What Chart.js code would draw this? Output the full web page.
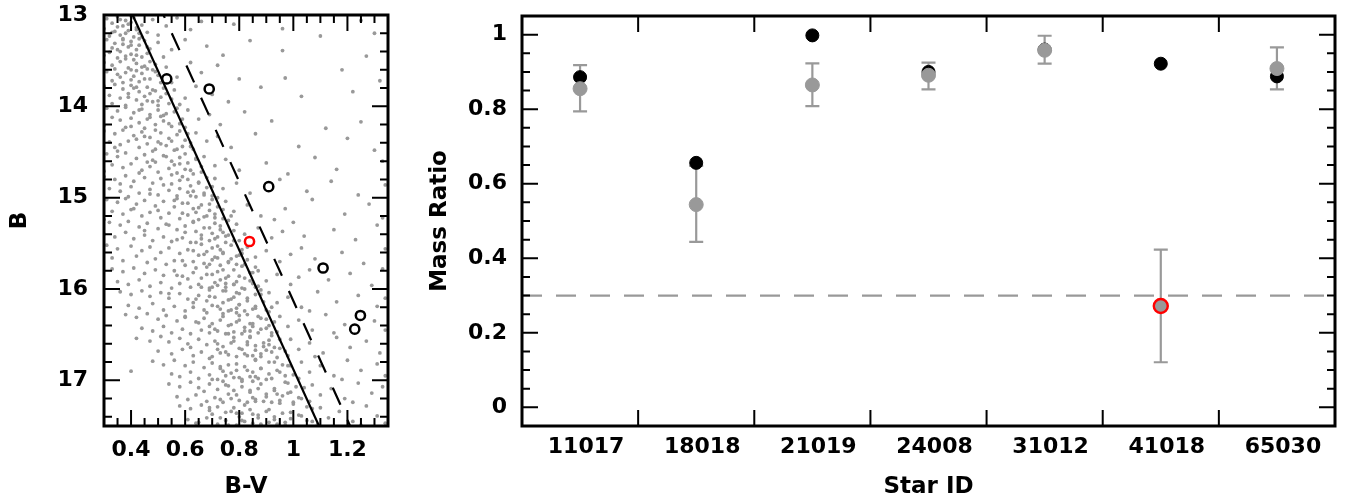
<!DOCTYPE html>
<html>
<head>
<meta charset="utf-8">
<script src="https://cdn.jsdelivr.net/npm/chart.js@4.4.1/dist/chart.umd.min.js"></script>
<style>
  html, body { margin:0; padding:0; background:#fff; }
  #wrap { position:relative; width:1356px; height:500px; overflow:hidden; }
  #cmd { position:absolute; left:0; top:0; }
  #ratio { position:absolute; left:400px; top:0; }
</style>
</head>
<body>
<div id="wrap">
  <canvas id="cmd" width="400" height="500"></canvas>
  <canvas id="ratio" width="956" height="500"></canvas>
</div>
<script>
// ---------------- Left panel: colour-magnitude diagram ----------------
// field stars, [B-V, B]
const fieldStars = [
[0.31,13.04],[0.35,13.02],[0.38,13.06],[0.41,13.03],[0.33,13.09],[0.37,13.12],[0.40,13.08],[0.42,13.14],[0.30,13.15],[0.34,13.18],[0.39,13.17],[0.43,13.20],[0.36,13.22],[0.41,13.24],[0.32,13.23],[0.44,13.11],[0.38,13.20],[0.35,13.13],[0.46,13.19],[0.40,13.01],
[0.48,13.05],[0.53,13.12],[0.57,13.03],[0.50,13.22],[0.62,13.16],[0.66,13.07],[0.78,13.10],[0.96,13.15],[1.30,13.20],[1.25,13.06],[1.10,13.23],
[0.31,13.27],[0.34,13.31],[0.37,13.26],[0.40,13.29],[0.43,13.33],[0.45,13.28],[0.33,13.36],[0.36,13.40],[0.39,13.35],[0.42,13.38],[0.46,13.42],[0.30,13.44],[0.35,13.47],[0.38,13.45],[0.41,13.49],[0.44,13.46],[0.47,13.37],[0.32,13.41],[0.40,13.43],[0.37,13.32],[0.43,13.26],
[0.50,13.30],[0.55,13.38],[0.60,13.27],[0.52,13.46],[0.68,13.34],[0.74,13.44],[0.96,13.39],[1.27,13.45],[0.84,13.28],
[0.30,13.52],[0.33,13.55],[0.36,13.51],[0.39,13.58],[0.42,13.53],[0.45,13.56],[0.48,13.60],[0.31,13.62],[0.35,13.65],[0.38,13.63],[0.41,13.67],[0.44,13.64],[0.47,13.70],[0.50,13.66],[0.33,13.72],[0.37,13.74],[0.40,13.71],[0.43,13.73],[0.46,13.59],[0.49,13.54],[0.34,13.59],[0.42,13.61],
[0.53,13.57],[0.57,13.68],[0.62,13.52],[0.66,13.63],[0.55,13.74],[0.72,13.55],[0.80,13.70],[0.97,13.69],[1.18,13.60],[1.32,13.72],
[0.30,13.78],[0.34,13.76],[0.37,13.81],[0.40,13.77],[0.43,13.84],[0.46,13.79],[0.49,13.83],[0.52,13.80],[0.32,13.88],[0.36,13.91],[0.39,13.86],[0.42,13.93],[0.45,13.89],[0.48,13.95],[0.51,13.90],[0.54,13.97],[0.33,13.97],[0.38,13.99],[0.44,13.98],[0.47,13.86],[0.41,13.80],[0.50,13.94],
[0.56,13.82],[0.60,13.91],[0.64,13.78],[0.58,13.98],[0.70,13.87],[0.76,13.95],[1.03,13.89],[0.88,13.79],[1.22,13.84],
[0.31,14.02],[0.35,14.05],[0.38,14.01],[0.41,14.07],[0.44,14.03],[0.47,14.09],[0.50,14.04],[0.53,14.08],[0.56,14.06],[0.33,14.12],[0.36,14.15],[0.40,14.13],[0.43,14.18],[0.46,14.14],[0.49,14.20],[0.52,14.16],[0.55,14.22],[0.58,14.19],[0.30,14.21],[0.38,14.23],[0.45,14.24],[0.51,14.11],
[0.61,14.04],[0.65,14.14],[0.60,14.23],[0.69,14.09],[0.73,14.20],[0.82,14.06],[0.92,14.16],[1.25,14.17],[1.12,14.24],
[0.30,14.27],[0.34,14.30],[0.37,14.26],[0.41,14.32],[0.44,14.28],[0.47,14.34],[0.51,14.29],[0.54,14.35],[0.57,14.31],[0.60,14.37],[0.32,14.39],[0.36,14.42],[0.39,14.38],[0.43,14.45],[0.46,14.41],[0.49,14.47],[0.53,14.43],[0.56,14.48],[0.59,14.44],[0.62,14.40],[0.35,14.49],[0.42,14.36],[0.50,14.39],
[0.64,14.29],[0.68,14.38],[0.63,14.47],[0.72,14.33],[0.77,14.45],[0.86,14.30],[1.02,14.44],[1.20,14.35],[1.30,14.48],
[0.31,14.52],[0.35,14.55],[0.38,14.51],[0.42,14.57],[0.45,14.53],[0.48,14.59],[0.52,14.54],[0.55,14.60],[0.58,14.56],[0.61,14.62],[0.64,14.58],[0.33,14.64],[0.37,14.67],[0.40,14.63],[0.44,14.70],[0.47,14.66],[0.50,14.72],[0.54,14.68],[0.57,14.73],[0.60,14.69],[0.63,14.74],[0.30,14.71],[0.46,14.61],[0.56,14.64],
[0.67,14.55],[0.71,14.65],[0.66,14.72],[0.75,14.58],[0.80,14.70],[0.90,14.62],[0.98,14.74],[1.08,14.56],[1.16,14.69],[1.33,14.60],
[0.30,14.77],[0.34,14.80],[0.38,14.76],[0.41,14.82],[0.45,14.78],[0.48,14.84],[0.51,14.79],[0.55,14.85],[0.58,14.81],[0.62,14.87],[0.65,14.83],[0.68,14.89],[0.32,14.90],[0.36,14.93],[0.40,14.88],[0.43,14.95],[0.47,14.91],[0.50,14.97],[0.54,14.92],[0.57,14.98],[0.61,14.94],[0.64,14.99],[0.67,14.95],[0.39,14.99],[0.59,14.77],
[0.71,14.79],[0.74,14.90],[0.70,14.98],[0.79,14.84],[0.84,14.95],[0.95,14.80],[1.05,14.93],[1.14,14.82],[1.24,14.97],[1.34,14.86],
[0.31,15.02],[0.35,15.05],[0.38,15.01],[0.42,15.07],[0.45,15.03],[0.49,15.09],[0.52,15.04],[0.56,15.10],[0.59,15.06],[0.63,15.12],[0.66,15.08],[0.69,15.14],[0.72,15.10],[0.33,15.15],[0.37,15.18],[0.40,15.13],[0.44,15.20],[0.47,15.16],[0.51,15.22],[0.54,15.17],[0.58,15.23],[0.61,15.19],[0.65,15.24],[0.68,15.20],[0.71,15.22],[0.30,15.24],[0.57,15.01],[0.64,15.16],
[0.75,15.04],[0.78,15.15],[0.74,15.23],[0.83,15.08],[0.88,15.20],[0.97,15.12],[1.07,15.02],[1.19,15.18],[1.28,15.07],[1.33,15.22],[0.93,15.24],
[0.32,15.27],[0.36,15.30],[0.39,15.26],[0.43,15.32],[0.46,15.28],[0.50,15.34],[0.53,15.29],[0.57,15.35],[0.60,15.31],[0.64,15.37],[0.67,15.33],[0.70,15.39],[0.73,15.35],[0.76,15.41],[0.30,15.40],[0.34,15.43],[0.38,15.38],[0.41,15.45],[0.45,15.41],[0.48,15.47],[0.52,15.43],[0.55,15.48],[0.59,15.44],[0.62,15.49],[0.66,15.45],[0.69,15.47],[0.72,15.43],[0.75,15.49],[0.63,15.26],[0.71,15.28],
[0.79,15.29],[0.82,15.40],[0.78,15.47],[0.87,15.33],[0.92,15.44],[1.00,15.27],[1.04,15.42],[1.15,15.35],[1.23,15.46],[1.31,15.30],[0.96,15.37],
[0.31,15.52],[0.35,15.56],[0.40,15.53],[0.44,15.58],[0.47,15.54],[0.51,15.60],[0.54,15.55],[0.58,15.61],[0.61,15.57],[0.65,15.63],[0.68,15.59],[0.71,15.65],[0.74,15.61],[0.77,15.67],[0.80,15.63],[0.33,15.66],[0.37,15.69],[0.42,15.64],[0.46,15.71],[0.49,15.67],[0.53,15.73],[0.56,15.69],[0.60,15.74],[0.63,15.70],[0.67,15.72],[0.70,15.68],[0.73,15.74],[0.76,15.70],[0.79,15.73],[0.72,15.53],[0.66,15.51],
[0.83,15.54],[0.86,15.65],[0.82,15.73],[0.90,15.58],[0.95,15.70],[1.03,15.55],[1.08,15.67],[1.18,15.60],[1.26,15.72],[1.34,15.56],[0.99,15.62],
[0.33,15.78],[0.37,15.81],[0.41,15.77],[0.45,15.83],[0.49,15.79],[0.52,15.85],[0.56,15.80],[0.59,15.86],[0.63,15.82],[0.66,15.88],[0.70,15.84],[0.73,15.90],[0.76,15.86],[0.79,15.92],[0.82,15.88],[0.85,15.94],[0.35,15.92],[0.39,15.95],[0.43,15.90],[0.47,15.97],[0.51,15.93],[0.55,15.99],[0.58,15.94],[0.62,15.98],[0.65,15.95],[0.69,15.99],[0.72,15.96],[0.75,15.98],[0.78,15.95],[0.81,15.99],[0.74,15.79],[0.68,15.76],[0.84,15.82],
[0.87,15.80],[0.90,15.91],[0.86,15.98],[0.94,15.84],[0.99,15.95],[1.06,15.79],[1.13,15.90],[1.21,15.83],[1.29,15.96],[1.33,15.78],[1.02,15.87],
[0.36,16.03],[0.40,16.06],[0.44,16.02],[0.47,16.08],[0.51,16.04],[0.54,16.10],[0.58,16.05],[0.61,16.11],[0.65,16.07],[0.68,16.13],[0.71,16.09],[0.74,16.15],[0.77,16.11],[0.80,16.17],[0.83,16.13],[0.86,16.19],[0.88,16.06],[0.39,16.18],[0.43,16.21],[0.48,16.16],[0.52,16.23],[0.56,16.19],[0.60,16.24],[0.63,16.20],[0.67,16.23],[0.70,16.18],[0.73,16.22],[0.76,16.24],[0.79,16.21],[0.82,16.24],[0.85,16.22],[0.75,16.02],[0.69,16.01],[0.80,16.05],
[0.91,16.04],[0.94,16.15],[0.90,16.23],[0.98,16.09],[1.03,16.20],[1.09,16.03],[1.16,16.14],[1.24,16.07],[1.31,16.19],[1.34,16.10],[1.06,16.24],
[0.38,16.28],[0.42,16.31],[0.46,16.27],[0.50,16.33],[0.53,16.29],[0.57,16.35],[0.60,16.30],[0.64,16.36],[0.67,16.32],[0.70,16.38],[0.73,16.34],[0.76,16.40],[0.79,16.36],[0.82,16.42],[0.85,16.38],[0.88,16.44],[0.91,16.40],[0.44,16.43],[0.48,16.46],[0.52,16.41],[0.55,16.48],[0.59,16.44],[0.62,16.49],[0.66,16.45],[0.69,16.48],[0.72,16.46],[0.75,16.49],[0.78,16.47],[0.81,16.49],[0.84,16.46],[0.87,16.30],[0.74,16.27],[0.80,16.29],[0.92,16.48],
[0.95,16.30],[0.98,16.41],[0.94,16.47],[1.02,16.34],[1.07,16.45],[1.12,16.28],[1.19,16.39],[1.30,16.35],[1.34,16.45],[1.15,16.48],
[0.42,16.54],[0.47,16.57],[0.51,16.52],[0.54,16.58],[0.58,16.54],[0.61,16.60],[0.65,16.55],[0.68,16.61],[0.71,16.57],[0.74,16.63],[0.77,16.59],[0.80,16.65],[0.83,16.61],[0.86,16.67],[0.89,16.63],[0.92,16.69],[0.95,16.65],[0.50,16.68],[0.55,16.71],[0.59,16.66],[0.63,16.73],[0.66,16.69],[0.70,16.74],[0.73,16.70],[0.76,16.72],[0.79,16.74],[0.82,16.71],[0.85,16.73],[0.88,16.74],[0.91,16.56],[0.84,16.52],[0.78,16.53],[0.72,16.66],[0.62,16.64],
[0.99,16.55],[1.02,16.66],[0.98,16.73],[1.06,16.59],[1.11,16.70],[1.16,16.53],[1.21,16.64],[1.27,16.57],[1.32,16.70],[1.08,16.74],
[0.48,16.79],[0.52,16.83],[0.56,16.78],[0.60,16.84],[0.63,16.80],[0.67,16.86],[0.70,16.81],[0.73,16.87],[0.76,16.83],[0.79,16.89],[0.82,16.85],[0.85,16.91],[0.88,16.87],[0.91,16.93],[0.94,16.89],[0.97,16.95],[0.99,16.84],[0.55,16.93],[0.58,16.96],[0.62,16.91],[0.65,16.98],[0.69,16.94],[0.72,16.99],[0.75,16.95],[0.78,16.97],[0.81,16.99],[0.84,16.96],[0.87,16.98],[0.90,16.99],[0.93,16.80],[0.40,16.90],[0.86,16.77],[0.74,16.90],
[1.03,16.80],[1.06,16.91],[1.02,16.98],[1.10,16.84],[1.15,16.95],[1.20,16.78],[1.25,16.89],[1.31,16.82],[1.34,16.95],[1.18,16.99],
[0.54,17.04],[0.58,17.07],[0.62,17.02],[0.65,17.08],[0.69,17.04],[0.72,17.10],[0.75,17.05],[0.78,17.11],[0.81,17.07],[0.84,17.13],[0.87,17.09],[0.90,17.15],[0.93,17.11],[0.96,17.17],[0.99,17.13],[1.02,17.19],[1.04,17.08],[0.57,17.18],[0.61,17.21],[0.64,17.16],[0.68,17.23],[0.71,17.19],[0.74,17.24],[0.77,17.20],[0.80,17.22],[0.83,17.24],[0.86,17.21],[0.89,17.23],[0.92,17.24],[0.95,17.22],[0.98,17.03],[0.76,17.15],[0.85,17.01],
[1.07,17.05],[1.10,17.16],[1.06,17.23],[1.14,17.09],[1.19,17.20],[1.24,17.03],[1.29,17.14],[1.33,17.07],[1.22,17.24],
[0.58,17.28],[0.62,17.31],[0.66,17.27],[0.69,17.33],[0.72,17.29],[0.75,17.35],[0.78,17.30],[0.81,17.36],[0.84,17.32],[0.87,17.38],[0.90,17.34],[0.93,17.40],[0.96,17.36],[0.99,17.42],[1.02,17.38],[1.05,17.44],[1.07,17.31],[0.61,17.43],[0.65,17.46],[0.68,17.41],[0.72,17.48],[0.75,17.44],[0.79,17.49],[0.82,17.45],[0.85,17.47],[0.88,17.49],[0.91,17.46],[0.94,17.48],[0.97,17.49],[1.00,17.26],[0.80,17.40],[0.70,17.37],
[1.10,17.30],[1.13,17.41],[1.09,17.48],[1.17,17.34],[1.22,17.45],[1.27,17.28],[1.31,17.39],[1.34,17.47],[1.25,17.49]
];

// extra stars in the dense main-sequence band, [B-V, B]
const ridgeStars = [
[0.36,13.05],[0.39,13.10],[0.33,13.19],[0.42,13.16],[0.37,13.27],[0.44,13.24],[0.40,13.33],[0.35,13.38],[0.46,13.35],[0.42,13.44],[0.38,13.48],[0.47,13.51],[0.44,13.57],[0.40,13.60],[0.49,13.62],[0.36,13.68],[0.45,13.70],[0.51,13.74],[0.42,13.79],[0.48,13.82],[0.53,13.86],[0.39,13.90],[0.46,13.94],[0.55,13.92],[0.50,13.99],[0.43,14.04],[0.57,14.02],[0.52,14.10],[0.47,14.12],[0.59,14.14],[0.54,14.19],[0.40,14.22],[0.49,14.26],[0.58,14.27],[0.61,14.30],[0.45,14.33],[0.55,14.38],[0.51,14.41],[0.62,14.44],[0.57,14.47],[0.34,14.45],[0.48,14.49],
[0.60,14.52],[0.53,14.55],[0.64,14.57],[0.49,14.61],[0.58,14.63],[0.66,14.66],[0.62,14.70],[0.43,14.73],[0.55,14.75],[0.68,14.78],[0.61,14.80],[0.65,14.84],[0.52,14.86],[0.70,14.88],[0.58,14.90],[0.63,14.93],[0.47,14.96],[0.67,14.97],[0.72,15.00],[0.56,15.03],[0.61,15.06],[0.69,15.07],[0.65,15.11],[0.74,15.13],[0.50,15.14],[0.59,15.17],[0.71,15.18],[0.67,15.21],[0.76,15.25],[0.63,15.27],[0.54,15.30],[0.73,15.31],[0.69,15.33],[0.78,15.36],[0.60,15.38],[0.66,15.41],[0.75,15.42],[0.71,15.45],[0.80,15.47],[0.57,15.46],[0.64,15.49],[0.45,15.36],[0.41,15.12],[0.36,14.85],[0.74,15.38],[0.70,15.02],[0.62,14.98],[0.77,15.20],
[0.77,15.52],[0.70,15.55],[0.81,15.57],[0.63,15.58],[0.74,15.60],[0.67,15.62],[0.79,15.64],[0.72,15.66],[0.83,15.68],[0.59,15.69],[0.76,15.71],[0.69,15.73],[0.81,15.75],[0.64,15.77],[0.78,15.79],[0.72,15.81],[0.85,15.82],[0.68,15.84],[0.80,15.86],[0.75,15.88],[0.61,15.89],[0.84,15.91],[0.71,15.93],[0.78,15.95],[0.87,15.97],[0.66,15.98],[0.82,16.00],[0.74,16.02],[0.79,16.04],[0.86,16.06],[0.69,16.08],[0.83,16.10],[0.76,16.12],[0.89,16.14],[0.63,16.15],[0.80,16.17],[0.72,16.19],[0.86,16.21],[0.77,16.23],[0.91,16.25],[0.68,16.26],[0.83,16.28],[0.74,16.30],[0.88,16.32],[0.80,16.34],[0.93,16.36],[0.65,16.37],[0.77,16.39],[0.85,16.41],[0.90,16.43],[0.71,16.44],[0.82,16.46],[0.87,16.48],[0.76,16.49],[0.57,15.85],[0.54,16.05],[0.60,16.31],[0.73,15.57],[0.88,16.01],[0.84,16.38],[0.69,16.41],[0.92,16.20],[0.79,16.26],[0.75,15.94],[0.81,15.61],[0.86,15.76],[0.64,16.11],[0.90,16.33],[0.70,15.98],[0.78,16.09],
[0.92,16.51],[0.84,16.53],[0.95,16.55],[0.78,16.57],[0.89,16.59],[0.72,16.60],[0.86,16.62],[0.93,16.64],[0.81,16.66],[0.97,16.68],[0.75,16.69],[0.88,16.71],[0.83,16.73],[0.94,16.75],[0.69,16.76],[0.86,16.78],[0.91,16.80],[0.79,16.82],[0.98,16.84],[0.73,16.85],[0.88,16.87],[0.83,16.89],[0.95,16.91],[0.77,16.92],[1.00,16.94],[0.86,16.96],[0.92,16.98],[0.70,16.99],[0.81,17.01],[0.97,17.02],[0.88,17.04],[0.76,17.06],[1.01,17.07],[0.93,17.09],[0.84,17.11],[0.67,17.12],[0.98,17.14],[0.79,17.16],[0.90,17.18],[1.03,17.20],[0.73,17.21],[0.86,17.23],[0.95,17.25],[0.82,17.27],[1.05,17.29],[0.69,17.30],[0.91,17.32],[0.77,17.34],[0.99,17.35],[0.85,17.37],[1.03,17.39],[0.73,17.41],[0.93,17.43],[0.81,17.44],[0.97,17.46],[0.88,17.48],[0.64,17.47],[0.76,17.49],[1.07,17.45],[0.90,16.67],[0.80,16.97],[0.94,17.15],[0.87,17.41],[0.83,16.58],[0.96,16.83],[0.74,17.01],[1.00,17.24],[0.79,17.36],[0.91,16.61],[0.85,17.19]
];

// fiducial main-sequence ridge line and equal-mass binary sequence
const fiducialBV = [0.406, 1.095];
const fiducialB  = [13.0, 17.5];
const binaryBV   = [0.52, 1.21];
const binaryB    = [13.0, 17.5];

// binary candidates (open circles)
const candBV = [0.532, 0.689, 0.909, 1.110, 1.248, 1.227];
const candB  = [13.70, 13.81, 14.88, 15.77, 16.29, 16.44];
const flaggedBV = [0.838];
const flaggedB  = [15.48];

const cmdXTicks = [0.4, 0.6, 0.8, 1, 1.2];
const cmdYTicks = [13, 14, 15, 16, 17];

// ---------------- Right panel: mass ratios ----------------
const starIDs   = ['11017', '18018', '21019', '24008', '31012', '41018', '65030'];
const qPhot     = [0.886, 0.656, 0.998, 0.900, 0.960, 0.922, 0.888];
const qSpec     = [0.855, 0.544, 0.865, 0.891, 0.958, 0.272, 0.909];
const qSpecLow  = [0.794, 0.444, 0.808, 0.853, 0.922, 0.121, 0.853];
const qSpecHigh = [0.918, 0.648, 0.923, 0.925, 0.997, 0.423, 0.966];
const qLimit    = 0.3;
const ratioYTicks = [0, 0.2, 0.4, 0.6, 0.8, 1];

// ---------------- shared style ----------------
Chart.defaults.font.family = "'DejaVu Sans', sans-serif";
Chart.defaults.font.weight = 'bold';
Chart.defaults.color = '#000';
const GREY = '#999999';
const tickFont = { size: 22, weight: 'bold', family: "'DejaVu Sans', sans-serif" };
const titleFont = { size: 23, weight: 'bold', lineHeight: 1, family: "'DejaVu Sans', sans-serif" };

function fitY(width) {
  return s => { s.width = width; s.paddingTop = 0; s.paddingBottom = 0; };
}
function fitX(height) {
  return s => { s.height = height; s.paddingLeft = 0; s.paddingRight = 0; };
}

function frameTicks(getX, getY) {
  return {
    id: 'frameTicks',
    afterDatasetsDraw(chart) {
      const { ctx, chartArea: a, scales } = chart;
      const X = getX(scales.x), Y = getY(scales.y);
      ctx.save();
      ctx.strokeStyle = '#000';
      ctx.lineWidth = 2;
      ctx.beginPath();
      const vt = (list, len) => list.forEach(p => {
        ctx.moveTo(p, a.bottom); ctx.lineTo(p, a.bottom - len);
        ctx.moveTo(p, a.top); ctx.lineTo(p, a.top + len);
      });
      const ht = (list, len) => list.forEach(p => {
        ctx.moveTo(a.left, p); ctx.lineTo(a.left + len, p);
        ctx.moveTo(a.right, p); ctx.lineTo(a.right - len, p);
      });
      vt(X.major, 16); vt(X.minor, 8);
      ht(Y.major, 16); ht(Y.minor, 8);
      ctx.stroke();
      ctx.lineWidth = 3;
      ctx.strokeRect(a.left, a.top, a.width, a.height);
      ctx.restore();
    }
  };
}

// ---------------- left chart ----------------
new Chart(document.getElementById('cmd'), {
  type: 'scatter',
  data: {
    datasets: [
      { label: 'flagged', data: flaggedBV.map((v, i) => ({ x: v, y: flaggedB[i] })),
        pointRadius: 4.6, pointBorderWidth: 2.5, pointBorderColor: '#ff0000', pointBackgroundColor: 'rgba(0,0,0,0)', order: 0 },
      { label: 'candidates', data: candBV.map((v, i) => ({ x: v, y: candB[i] })),
        pointRadius: 4.6, pointBorderWidth: 2.5, pointBorderColor: '#000', pointBackgroundColor: 'rgba(0,0,0,0)', order: 0 },
      { type: 'line', label: 'ridge', data: fiducialBV.map((v, i) => ({ x: v, y: fiducialB[i] })),
        borderColor: '#000', borderWidth: 2.2, pointRadius: 0, fill: false, order: 1 },
      { type: 'line', label: 'binary', data: binaryBV.map((v, i) => ({ x: v, y: binaryB[i] })),
        borderColor: '#000', borderWidth: 2.2, borderDash: [18.6, 16.8], borderDashOffset: 15.4, pointRadius: 0, fill: false, order: 1 },
      { label: 'field', data: fieldStars.concat(ridgeStars).map(p => ({ x: p[0], y: p[1] })),
        pointRadius: 1.9, pointBorderWidth: 0, pointBackgroundColor: GREY, pointBorderColor: GREY, order: 2 }
    ]
  },
  options: {
    responsive: false, animation: false, devicePixelRatio: 1,
    layout: { padding: { top: 15, right: 12, left: 0, bottom: 0 } },
    plugins: { legend: { display: false }, tooltip: { enabled: false } },
    scales: {
      x: {
        type: 'linear', min: 0.3, max: 1.35,
        grid: { display: false, drawTicks: false }, border: { display: false },
        afterBuildTicks: s => { s.ticks = cmdXTicks.map(v => ({ value: v })); },
        afterFit: fitX(74),
        ticks: { font: tickFont, padding: 11, autoSkip: false, maxRotation: 0, callback: v => String(v) },
        title: { display: true, text: 'B-V', font: titleFont, padding: { top: 0, bottom: 1.5 } }
      },
      y: {
        type: 'linear', min: 13, max: 17.5, reverse: true,
        grid: { display: false, drawTicks: false }, border: { display: false },
        afterBuildTicks: s => { s.ticks = cmdYTicks.map(v => ({ value: v })); },
        afterFit: fitY(104),
        ticks: { font: tickFont, padding: 16, autoSkip: false, callback: v => String(v) },
        title: { display: true, text: 'B', font: titleFont, padding: { top: 8.5, bottom: 0 } }
      }
    }
  },
  plugins: [frameTicks(
    xs => {
      const major = cmdXTicks.map(v => xs.getPixelForValue(v)), minor = [];
      for (let i = 7; i < 27; i++) if (i % 4 !== 0) minor.push(xs.getPixelForValue(i * 0.05));
      return { major, minor };
    },
    ys => {
      const major = cmdYTicks.map(v => ys.getPixelForValue(v)), minor = [];
      for (let i = 66; i <= 87; i++) if (i % 5 !== 0) minor.push(ys.getPixelForValue(i * 0.2));
      return { major, minor };
    }
  )]
});

// ---------------- right chart ----------------
const errSets = starIDs.map((id, i) => ({
  type: 'line', label: 'err' + id,
  data: [{ x: id, y: qSpecLow[i] }, { x: id, y: qSpecHigh[i] }],
  borderColor: GREY, borderWidth: 2.2, pointStyle: 'line', pointRadius: 7,
  pointBorderWidth: 2.2, pointBorderColor: GREY, fill: false, order: 2
}));

new Chart(document.getElementById('ratio'), {
  type: 'line',
  data: {
    labels: starIDs,
    datasets: [
      { label: 'spec', data: qSpec, showLine: false, pointRadius: 7,
        pointBackgroundColor: GREY,
        pointBorderColor: starIDs.map((id, i) => i === 5 ? '#ff0000' : GREY),
        pointBorderWidth: starIDs.map((id, i) => i === 5 ? 2.4 : 1), order: 0 },
      { label: 'phot', data: qPhot, showLine: false, pointRadius: 6.5,
        pointBackgroundColor: '#000', pointBorderColor: '#000', pointBorderWidth: 1, order: 1 },
      ...errSets,
      { label: 'limit', xAxisID: 'xl', data: [{ x: 0, y: qLimit }, { x: 1, y: qLimit }],
        borderColor: GREY, borderWidth: 2.2, borderDash: [20, 14], pointRadius: 0, fill: false, order: 3 }
    ]
  },
  options: {
    responsive: false, animation: false, devicePixelRatio: 1,
    layout: { padding: { top: 16, right: 21, left: 0, bottom: 0 } },
    plugins: { legend: { display: false }, tooltip: { enabled: false } },
    scales: {
      x: {
        type: 'category', offset: true,
        grid: { display: false, drawTicks: false, offset: true }, border: { display: false },
        afterFit: fitX(74),
        ticks: { font: tickFont, padding: 8, labelOffset: 6, autoSkip: false, maxRotation: 0 },
        title: { display: true, text: 'Star ID', font: titleFont, padding: { top: 0, bottom: 1.5 } }
      },
      xl: { type: 'linear', min: 0, max: 1, display: false },
      y: {
        type: 'linear', min: -0.05, max: 1.05,
        grid: { display: false, drawTicks: false }, border: { display: false },
        afterBuildTicks: s => { s.ticks = ratioYTicks.map(v => ({ value: v })); },
        afterFit: fitY(122),
        ticks: { font: tickFont, padding: 15, autoSkip: false, callback: v => String(v) },
        title: { display: true, text: 'Mass Ratio', font: titleFont, padding: { top: 28.5, bottom: 0 } }
      }
    }
  },
  plugins: [frameTicks(
    xs => {
      const major = [];
      for (let i = 1; i < starIDs.length; i++) major.push((xs.getPixelForValue(i - 1) + xs.getPixelForValue(i)) / 2);
      return { major, minor: [] };
    },
    ys => {
      const major = ratioYTicks.map(v => ys.getPixelForValue(v)), minor = [];
      for (let i = 0; i <= 20; i++) if (i % 4 !== 0) minor.push(ys.getPixelForValue(i * 0.05));
      return { major, minor };
    }
  )]
});
</script>
</body>
</html>
